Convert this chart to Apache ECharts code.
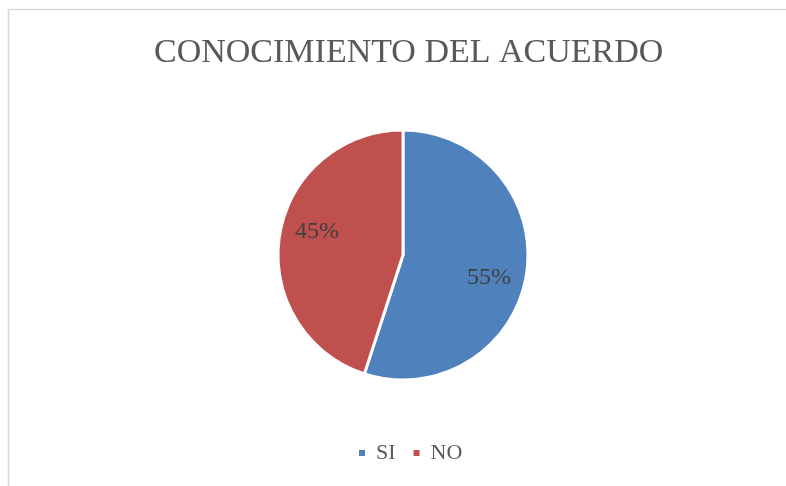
<!DOCTYPE html>
<html>
<head>
<meta charset="utf-8">
<script src="https://cdn.jsdelivr.net/npm/echarts@6/dist/echarts.min.js"></script>
<style>
  html, body { margin: 0; padding: 0; background: #fff; }
  #chart { width: 786px; height: 486px; }
</style>
</head>
<body>
<div id="chart"></div>
<script>
// datos del gráfico
const categorias = ['SI', 'NO'];
const valores = [55, 45];
const colores = ['#4F81BD', '#C0504D'];

const serif = '"Liberation Serif", "DejaVu Serif", serif';

const datos = categorias.map((c, i) => ({
    name: c,
    value: valores[i],
    itemStyle: { color: colores[i] }
}));

const chart = echarts.init(document.getElementById('chart'));
chart.setOption({
    animation: false,
    graphic: [{
        type: 'rect',
        shape: { x: 8.5, y: 9.5, width: 800, height: 500 },
        style: { fill: 'none', stroke: '#d9d9d9', lineWidth: 1.5 },
        silent: true
    }],
    title: {
        text: 'CONOCIMIENTO DEL ACUERDO',
        left: 149,
        top: 31,
        textStyle: { fontFamily: serif, fontSize: 34, fontWeight: 'normal', color: '#595959' }
    },
    legend: {
        data: categorias,
        bottom: 17,
        left: 352,
        icon: 'rect',
        itemWidth: 8,
        itemHeight: 8,
        itemGap: 16,
        textStyle: { fontFamily: serif, fontSize: 22, color: '#595959', padding: [0, 0, 0, 5] }
    },
    series: [{
        type: 'pie',
        center: [403, 255],
        radius: [0, 125],
        startAngle: 90,
        clockwise: true,
        data: datos,
        itemStyle: { borderColor: '#fff', borderWidth: 3 },
        label: { show: false },
        labelLine: { show: false },
        silent: true
    }, {
        // serie transparente solo para colocar las etiquetas
        type: 'pie',
        center: [403, 255],
        radius: [47, 125],
        startAngle: 84,
        clockwise: true,
        data: datos.map(d => ({ name: d.name, value: d.value })),
        itemStyle: { color: 'transparent' },
        label: {
            show: true,
            position: 'inside',
            formatter: p => p.value + '%',
            fontFamily: serif,
            fontSize: 24,
            color: '#404040'
        },
        labelLine: { show: false },
        silent: true,
        legendHoverLink: false
    }]
});
</script>
</body>
</html>
